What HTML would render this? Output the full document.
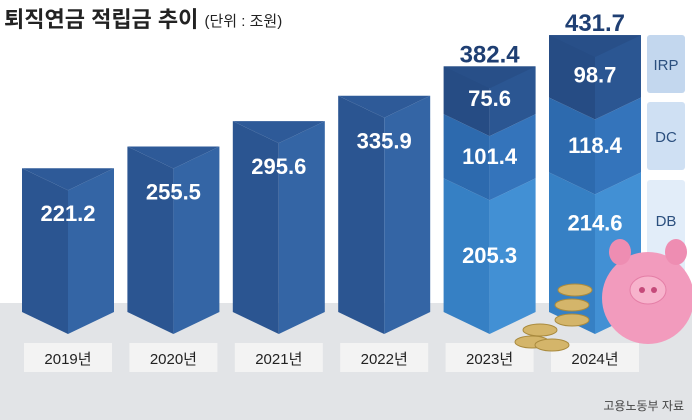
<!DOCTYPE html>
<html><head><meta charset="utf-8"><style>
body{margin:0;width:692px;height:420px;overflow:hidden;background:#fff;font-family:"Liberation Sans","Noto Sans CJK KR",sans-serif}
svg{display:block}
</style></head><body>
<svg id="c" width="692" height="420">
<rect x="0" y="303" width="692" height="117" fill="#e2e4e7"/>
<text x="4" y="27" font-size="22" font-weight="bold" fill="#222" font-family="Liberation Sans, Noto Sans CJK KR, sans-serif">퇴직연금 적립금 추이 <tspan font-size="15" font-weight="normal" dy="-1">(단위 : 조원)</tspan></text>
<g id="legend"></g>
<g id="bars"></g>
<g id="deco"></g>
<text x="684" y="410" font-size="12" fill="#444" text-anchor="end">고용노동부 자료</text>
</svg>
<script>
const years=["2019년","2020년","2021년","2022년","2023년","2024년"];
const totals=[221.2,255.5,295.6,335.9,382.4,431.7];
const dbVals=[null,null,null,null,205.3,214.6];
const dcVals=[null,null,null,null,101.4,118.4];
const irpVals=[null,null,null,null,75.6,98.7];
const NS="http://www.w3.org/2000/svg";
const G=document.getElementById('bars');
const base=308,scale=0.632,bw=92,dep=22;
const y=v=>base-scale*v;
const bx=i=>22+i*105.4;
function el(tag,attrs,parent){const e=document.createElementNS(NS,tag);for(const k in attrs)e.setAttribute(k,attrs[k]);(parent||G).appendChild(e);return e;}
function chev(x,yt,yb,tipT,tipB,cl,cr,name){
  const m=x+bw/2;
  const a=el('polygon',{points:`${x},${yt} ${m},${yt+tipT} ${m},${yb+tipB} ${x},${yb}`,fill:cl});
  
  
  const b=el('polygon',{points:`${m},${yt+tipT} ${x+bw},${yt} ${x+bw},${yb} ${m},${yb+tipB}`,fill:cr});
  
  
}
function label(x,yy,t,name,size,fill,stroke){
  const e=el('text',{x:x,y:yy,'font-size':size||22,'font-weight':'bold','text-anchor':'middle',fill:fill||'#fff'});
  if(stroke){e.setAttribute('stroke',stroke);e.setAttribute('stroke-width','4');e.setAttribute('paint-order','stroke');}
  e.textContent=t;
  
  
}
years.forEach((yr,i)=>{
  const x=bx(i),bot=312;
  const top=y(totals[i]);
  if(dbVals[i]==null){
    chev(x,top,bot,dep,dep,'#2b5591','#3465a5','bar-'+yr);
    const t=el('polygon',{points:`${x},${top} ${x+bw},${top} ${x+bw/2},${top+dep}`,fill:'#2e5a98'});
    
    
    label(x+bw/2,top+53,totals[i].toFixed(1),'value-'+yr);
  }else{
    const b1=y(dbVals[i]),b2=y(dbVals[i]+dcVals[i]);
    chev(x,b1,bot,dep,dep,'#3680c4','#4290d4','db-'+yr);
    chev(x,b2,b1,dep,dep,'#2d6aae','#3474bb','dc-'+yr);
    chev(x,top,b2,0,dep,'#264c84','#2b5692','irp-'+yr);
    const t=el('polygon',{points:`${x},${top} ${x+bw},${top} ${x+bw/2},${top+dep}`,fill:'#284f88'});
    
    
    label(x+bw/2,(top+b2)/2+16,irpVals[i].toFixed(1),'irp-value-'+yr);
    label(x+bw/2,(b2+b1)/2+18,dcVals[i].toFixed(1),'dc-value-'+yr);
    label(x+bw/2,i===5?b1+58:(b1+bot)/2+18,dbVals[i].toFixed(1),'db-value-'+yr);
    label(x+bw/2,top-4,totals[i].toFixed(1),'total-value-'+yr,24,'#1f3f73','#fff');
  }
  const r=el('rect',{x:x+2,y:343,width:bw-4,height:29,fill:'#f3f3f3'});
  
  
  const tx=el('text',{x:x+bw/2,y:364,'font-size':15,'text-anchor':'middle',fill:'#222'});
  tx.textContent=yr;
  
  
});
const L=document.getElementById('legend');
[["IRP",35,93,"#c3d7ee"],["DC",102,170,"#cfe0f3"],["DB",180,300,"#e2edf9"]].forEach(d=>{
  const r=el('rect',{x:647,y:d[1],width:38,height:d[2]-d[1],rx:3,fill:d[3]},L);
  
  
  const t=el('text',{x:666,y:(d[1]+Math.min(d[2],260))/2+6,'font-size':15,'text-anchor':'middle',fill:'#2b4f7e'},L);
  t.textContent=d[0];
  
  
});
const D=document.getElementById('deco');
[[532,342],[540,330],[575,290],[572,305],[572,320],[552,345]].forEach(c=>{
  const e=el('ellipse',{cx:c[0],cy:c[1],rx:17,ry:6,fill:'#d4b56a',stroke:'#a98a3e','stroke-width':1},D);
  
  
});
const p=el('g',{},D);


el('ellipse',{cx:648,cy:298,rx:46,ry:46,fill:'#f29bbd'},p);
el('ellipse',{cx:620,cy:252,rx:11,ry:13,fill:'#ee8db2'},p);
el('ellipse',{cx:676,cy:252,rx:11,ry:13,fill:'#ee8db2'},p);
el('ellipse',{cx:648,cy:290,rx:18,ry:14,fill:'#f7b3cc',stroke:'#e47ea6'},p);
el('circle',{cx:642,cy:290,r:3,fill:'#c54a7a'},p);
el('circle',{cx:654,cy:290,r:3,fill:'#c54a7a'},p);
</script>
</body></html>
